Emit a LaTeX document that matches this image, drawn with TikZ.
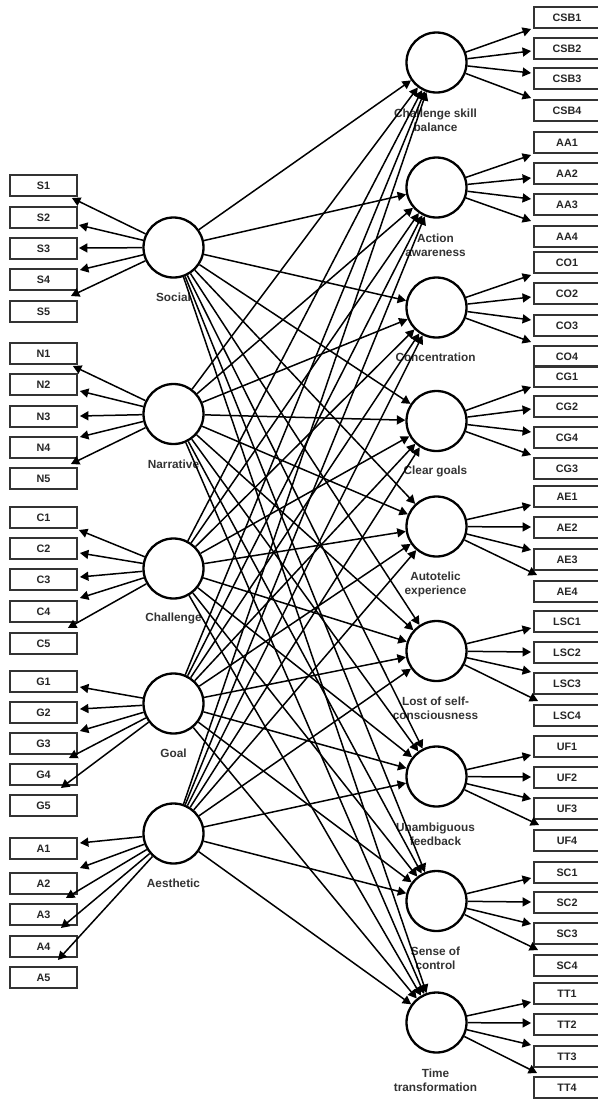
\documentclass[tikz,border=0pt]{standalone}
\usepackage{fontspec}
\setmainfont{Liberation Sans}
\usetikzlibrary{arrows.meta}
\newcommand\mybxfont{\fontsize{10.8bp}{12bp}\selectfont\bfseries}
\newcommand\mylbfont{\fontsize{11.8bp}{14bp}\selectfont\bfseries}
\tikzset{
  lat/.style={circle, draw=black, line width=2.3bp, minimum size=60bp, inner sep=0pt, fill=white},
  lbox/.style={rectangle, draw=black!80, line width=1.8bp, minimum width=67bp, minimum height=21bp, inner sep=0pt, font=\mybxfont, text=black!85},
  rbox/.style={lbox, minimum width=66bp},
  lbl/.style={align=center, font=\mylbfont, inner sep=0pt, text=black!80},
  arr/.style={line width=1.5bp, -{Triangle[length=8.5bp,width=9bp]}},
}
\begin{document}
\begin{tikzpicture}[x=1bp,y=-1bp]
\useasboundingbox (0,0) rectangle (598,1099);
% left latent variables
\foreach \n/\y in {Social/247.5,Narrative/414,Challenge/568.5,Goal/703.5,Aesthetic/833.5}{
  \node[lbl] (\n-l) at (173.5,\y+50) {\n};
  \node[lat] (\n) at (173.5,\y) {};
}
% right latent variables
\foreach \n/\y/\o/\t in {CSB/62.5/57.5/{Challenge skill\\balance},
  AA/187.5/57.5/{Action\\awareness},
  CO/307.5/50/{Concentration},
  CG/421/50/{Clear goals},
  AE/526.5/57.5/{Autotelic\\experience},
  LSC/651/57.5/{Lost of self-\\consciousness},
  UF/776.5/57.5/{Unambiguous\\feedback},
  SC/901/57.5/{Sense of\\control},
  TT/1022.5/57.5/{Time\\transformation}}{
  \node[lbl] (\n-l) at (435.5,\y+\o) {\t};
  \node[lat] (\n) at (436.5,\y) {};
}
% left indicator boxes
\foreach \b/\y in {S1/185.5,S2/217.5,S3/248.5,S4/279.5,S5/311.5,
  N1/353.5,N2/384.5,N3/416.5,N4/447.5,N5/478.5,
  C1/517.5,C2/548.5,C3/579.5,C4/611.5,C5/643.5,
  G1/681.5,G2/712.5,G3/743.5,G4/774.5,G5/805.5,
  A1/848.5,A2/883.5,A3/914.5,A4/946.5,A5/977.5}{
  \node[lbox] (\b) at (43.5,\y) {\b};
}
% right indicator boxes
\foreach \b/\y in {CSB1/17.5,CSB2/48.5,CSB3/78.5,CSB4/110.5,
  AA1/142.5,AA2/173.5,AA3/204.5,AA4/236.5,
  CO1/262.5,CO2/293.5,CO3/325.5,CO4/356.5,
  CG1/376.5,CG2/406.5,CG4/437.5,CG3/468.5,
  AE1/496.5,AE2/527.5,AE3/559.5,AE4/591.5,
  LSC1/621.5,LSC2/652.5,LSC3/683.5,LSC4/715.5,
  UF1/746.5,UF2/777.5,UF3/808.5,UF4/840.5,
  SC1/872.5,SC2/902.5,SC3/933.5,SC4/965.5,
  TT1/993.5,TT2/1024.5,TT3/1056.5,TT4/1087.5}{
  \node[rbox] (\b) at (567,\y) {\b};
}
% left arrows
\foreach \c/\b/\dx/\dy in {
  Social/S1/-6/12.5, Social/S2/1/7.5, Social/S3/1/-0.5, Social/S4/2/-9.5, Social/S5/-7/-15.5,
  Narrative/N1/-5/12.5, Narrative/N2/2/6.5, Narrative/N3/2/-0.5, Narrative/N4/2/-10.5, Narrative/N5/-7/-14.5,
  Challenge/C1/1/12.5, Challenge/C2/2/4.5, Challenge/C3/2/-2.5, Challenge/C4/2/-13.5, Challenge/C5/-10/-15.5,
  Goal/G1/2/5.5, Goal/G2/2/-3.5, Goal/G3/2/-12.5, Goal/G4/-9/-16.5, Goal/G5/-17/-17.5,
  Aesthetic/A1/2/-5.5, Aesthetic/A2/2/-15.5, Aesthetic/A3/-12/-16.5, Aesthetic/A4/-17/-18.5, Aesthetic/A5/-20/-17.5}{
  \draw[arr] (\c) -- ([shift={(\dx,\dy)}]\b.east);
}
% right arrows
\foreach \c/\b/\dx/\dy in {
  CSB/CSB1/-2/11.5, CSB/CSB2/-2/2.5, CSB/CSB3/-2/-5.5, CSB/CSB4/-2/-12.5,
  AA/AA1/-2/12.5, AA/AA2/-2/4.5, AA/AA3/-2/-5.5, AA/AA4/-2/-15.5,
  CO/CO1/-2/12.5, CO/CO2/-2/3.5, CO/CO3/-2/-5.5, CO/CO4/-2/-14.5,
  CG/CG1/-2/10.5, CG/CG2/-2/2.5, CG/CG4/-2/-5.5, CG/CG3/-2/-13.5,
  AE/AE1/-2/8.5, AE/AE2/-2/-0.5, AE/AE3/-2/-9.5, AE/AE4/4/-16.5,
  LSC/LSC1/-2/6.5, LSC/LSC2/-2/-0.5, LSC/LSC3/-2/-11.5, LSC/LSC4/5/-14.5,
  UF/UF1/-2/8.5, UF/UF2/-2/-0.5, UF/UF3/-2/-9.5, UF/UF4/6/-15.5,
  SC/SC1/-2/5.5, SC/SC2/-2/-0.5, SC/SC3/-2/-9.5, SC/SC4/5/-15.5,
  TT/TT1/-2/8.5, TT/TT2/-2/-1.5, TT/TT3/-2/-11.5, TT/TT4/4/-14.5}{
  \draw[arr] (\c) -- ([shift={(\dx,\dy)}]\b.west);
}
% structural paths
\foreach \l in {Social,Narrative,Challenge,Goal,Aesthetic}{
  \foreach \r in {CSB,AA,CO,CG,AE,LSC,UF,SC,TT}{
    \draw[arr] (\l) -- (\r);
  }
}
\end{tikzpicture}
\end{document}
